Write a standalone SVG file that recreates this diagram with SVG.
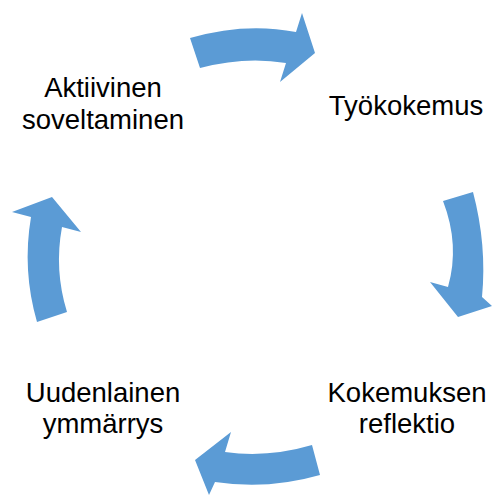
<svg xmlns="http://www.w3.org/2000/svg" width="493" height="495" viewBox="0 0 493 495">
  <style>
    .lbl { font-family: "Liberation Sans", Arial, sans-serif; font-size: 27.5px; fill: #000000; text-anchor: middle; }
    .arr { fill: #5B9BD5; stroke: none; }
  </style>
  <rect width="493" height="495" fill="#FFFFFF"/>
  <g id="connectors">
    <path class="arr" d="M190,38 Q245,22 296,32 L302,13 L315,53 L280,82 L286,63 Q245,56 200,68 Z"/>
    <path class="arr" d="M443,201 L473,192 Q487,245 482,297 L492,306 L458,317 L430,282 L448,287 Q460,245 443,201 Z"/>
    <path class="arr" d="M312,445 Q268,458 225,452 L231,432 L195,460 L209,495 L215,482 Q268,490 320,475 Z"/>
    <path class="arr" d="M37,322 Q22,270 31,217 L12,212 L52,197 L81,232 L62,227 Q54,270 67,312 Z"/>
  </g>
  <g id="node-tyokokemus">
    <text class="lbl" x="406" y="115">Työkokemus</text>
  </g>
  <g id="node-reflektio">
    <text class="lbl" x="407" y="401.7">Kokemuksen</text>
    <text class="lbl" x="407" y="433.3">reflektio</text>
  </g>
  <g id="node-ymmarrys">
    <text class="lbl" x="103" y="401.7">Uudenlainen</text>
    <text class="lbl" x="103" y="433.3">ymmärrys</text>
  </g>
  <g id="node-soveltaminen">
    <text class="lbl" x="103" y="97.3">Aktiivinen</text>
    <text class="lbl" x="103" y="129.3">soveltaminen</text>
  </g>
</svg>
